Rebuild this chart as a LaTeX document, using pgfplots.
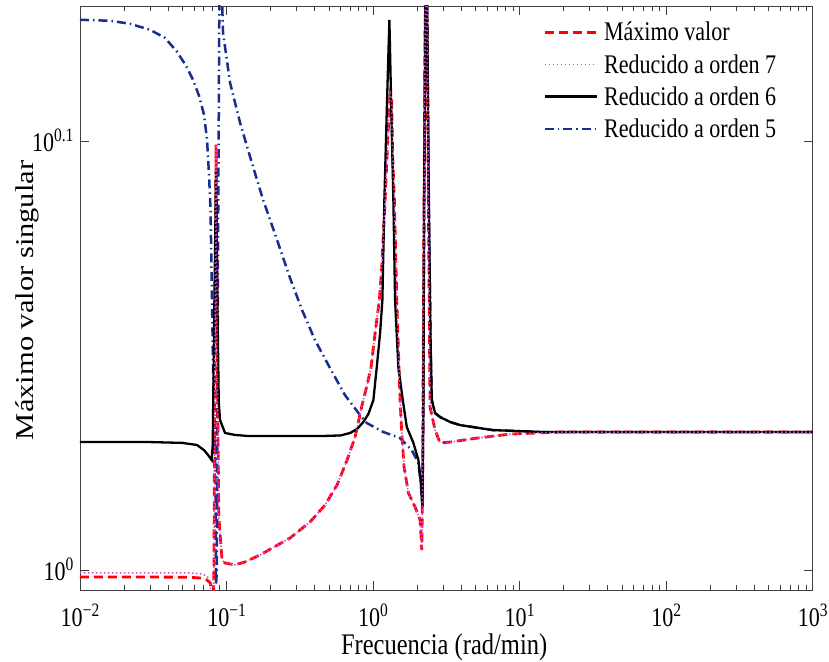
\documentclass[border=0pt]{standalone}
\usepackage{fontspec}
\setmainfont{Liberation Serif}[FakeStretch=0.82]
\newfontfamily\ylfont{Liberation Serif}
\usepackage{graphicx}
\usepackage{pgfplots}
\pgfplotsset{compat=1.18}
\definecolor{cred}{RGB}{255,0,0}
\definecolor{cmag}{RGB}{215,70,215}
\definecolor{cblue}{RGB}{25,45,140}
\newcommand\sups[1]{\raisebox{10bp}{\fontsize{19}{19}\selectfont #1}}
\begin{document}
\begin{tikzpicture}
\begin{axis}[
  xmode=log, ymode=log,
  scale only axis, width=732.7bp, height=584bp,
  xmin=0.01, xmax=1000, ymin=0.98969, ymax=1.3541,
  xtick={0.01,0.1,1,10,100,1000},
  xticklabels={10\sups{−2},10\sups{−1},10\sups{0},10\sups{1},10\sups{2},10\sups{3}},
  minor xtick={0.02,0.03,0.04,0.05,0.06,0.07,0.08,0.09,0.2,0.3,0.4,0.5,0.6,0.7,0.8,0.9,2,3,4,5,6,7,8,9,20,30,40,50,60,70,80,90,200,300,400,500,600,700,800,900},
  ytick={1,1.2589254},
  yticklabels={10\sups{0},10\sups{0.1}},
  tick align=inside,
  major tick length=9bp, minor tick length=5bp,
  every tick/.style={black!75, line width=0.8bp},
  axis line style={black!75, line width=0.9bp},
  ticklabel style={font=\fontsize{27}{30}\selectfont},
  xticklabel style={anchor=base, yshift=-36.7bp},
  yticklabel style={anchor=base east, xshift=-3bp, yshift=-9.5bp},
  xlabel={Frecuencia (rad/min)},
  xlabel style={font=\fontsize{30}{33}\selectfont, at={(axis description cs:0.497,-0.1113)}, anchor=base},
  ylabel={\scalebox{1}[0.84]{\ylfont\fontsize{30.6}{33}\selectfont Máximo valor singular}},
  ylabel style={at={(axis description cs:-0.0628,0.496)}, anchor=base, rotate=0},
  legend cell align=left,
  legend style={at={(axis description cs:0.632,0.976)}, anchor=north west, draw=none, fill=none,
    font=\fontsize{27}{30}\selectfont, row sep=8bp, inner sep=0pt, column sep=4bp},
  legend image code/.code={\draw[#1] (0bp,0bp) -- (52bp,0bp);},
]
\addlegendimage{cred, line width=2.8bp, dash pattern=on 9bp off 5bp}
\addlegendentry{Máximo valor}
\addlegendimage{cmag, line width=1.5bp, dash pattern=on 1.5bp off 2.5bp}
\addlegendentry{Reducido a orden 7}
\addlegendimage{black, line width=2.3bp}
\addlegendentry{Reducido a orden 6}
\addlegendimage{cblue, line width=2.5bp, dash pattern=on 9bp off 4bp on 1.5bp off 4bp}
\addlegendentry{Reducido a orden 5}

% Reducido a orden 5
\addplot[forget plot, cblue, line width=2.5bp, dash pattern=on 9bp off 4bp on 1.5bp off 4bp] coordinates {
(0.01,1.3441)(0.01602,1.3434)(0.02195,1.3412)(0.03005,1.3369)(0.03804,1.3311)(0.04592,1.3212)
(0.05292,1.3113)(0.05905,1.3015)(0.06491,1.2903)(0.07022,1.2773)(0.0736,1.2603)(0.07595,1.2368)
(0.07776,1.2139)(0.07962,1.1564)(0.08088,1.1155)
(0.08217,1.0988)(0.08414,1.0443)(0.08479,0.9924)(0.08588,1.0000)(0.08750,1.1880)(0.08931,1.3530)
(0.09080,1.40)(0.09465,1.3347)(0.1057,1.2994)(0.1237,1.2718)(0.1447,1.2488)(0.1774,1.2204)
(0.2212,1.1943)(0.2713,1.1701)(0.3276,1.1502)(0.4018,1.1317)(0.5086,1.1149)(0.6436,1.0988)
(0.8153,1.0871)(0.9057,1.0825)(1.1758,1.0773)(1.5285,1.0738)(1.8373,1.0669)
(2.0381,1.0595)(2.1169,1.0482)(2.1709,1.0348)(2.2053,1.0959)(2.2297,1.2204)(2.3000,1.45)
(2.4006,1.2204)(2.4696,1.13)(2.5158,1.0959)(2.6496,1.0883)(2.866,1.0860)(3.355,1.0831)
(3.925,1.0813)(6.593,1.0784)(14.47,1.0773)(1000,1.0773)
};
% Maximo valor
\addplot[forget plot, cred, line width=2.8bp, dash pattern=on 9bp off 5bp] coordinates {
(0.01,0.9966)(0.03,0.9966)(0.055,0.9965)(0.0660,0.9961)(0.0736,0.9950)(0.0775,0.9935)
(0.0795,0.985)(0.0818,0.985)(0.0832,1.10)(0.0848,1.2569)(0.0865,1.12)(0.0885,1.03)
(0.0932,1.0057)(0.0977,1.0041)(0.1143,1.0031)(0.1337,1.0047)(0.1693,1.0085)(0.2713,1.0177)
(0.3715,1.0265)(0.4704,1.0359)(0.5679,1.0471)(0.6647,1.0612)(0.7536,1.0744)(0.8412,1.0930)
(0.9100,1.1048)(0.9691,1.1155)(1.032,1.1360)(1.1042,1.1564)(1.1466,1.1770)(1.2077,1.2204)(1.2660,1.2650)
(1.3063,1.2911)(1.340,1.2876)(1.3588,1.2502)(1.3973,1.2204)(1.4510,1.1564)(1.5285,1.0959)
(1.5700,1.0767)(1.6279,1.0572)(1.7416,1.0426)(1.935,1.0348)(2.0937,1.0276)(2.1505,1.0111)
(2.1777,1.05)(2.2297,1.2204)(2.3000,1.45)(2.3852,1.2204)(2.449,1.0918)(2.6496,1.0784)
(2.866,1.0710)(3.355,1.0715)(5.128,1.0738)(8.613,1.0761)(18.9,1.0773)(1000,1.0773)
};
% Reducido a orden 6
\addplot[forget plot, black, line width=2.3bp] coordinates {
(0.01,1.0715)(0.03,1.0715)(0.05,1.0710)(0.0629,1.0698)(0.0702,1.0669)(0.0748,1.0641)
(0.0792,1.0612)(0.0805,1.0700)(0.0825,1.1500)(0.0848,1.2401)(0.0868,1.1500)(0.0885,1.0950)
(0.0903,1.0842)(0.0977,1.0767)(0.1143,1.0756)(0.1402,1.0750)(0.2500,1.0750)(0.4500,1.0750)
(0.6000,1.0753)(0.6966,1.0767)(0.7777,1.0790)(0.8584,1.0831)(0.9287,1.0877)(1.0047,1.0959)
(1.0599,1.1155)(1.1164,1.1360)(1.1575,1.1564)(1.1944,1.2204)(1.2460,1.2876)(1.2920,1.3441)
(1.3270,1.2876)(1.3755,1.2204)(1.4130,1.1564)(1.4880,1.1155)(1.5950,1.0959)(1.6984,1.0802)
(1.8841,1.0710)(2.0381,1.0612)(2.1169,1.0482)(2.1709,1.0348)(2.2053,1.0959)(2.2297,1.2204)
(2.3000,1.45)(2.4006,1.2204)(2.4696,1.13)(2.5158,1.0959)(2.6496,1.0883)(2.866,1.0860)
(3.355,1.0831)(3.925,1.0813)(6.593,1.0784)(14.47,1.0773)(1000,1.0773)
};
% Reducido a orden 7
\addplot[forget plot, cmag, line width=1.5bp, dash pattern=on 1.5bp off 2.5bp] coordinates {
(0.01,0.9989)(0.03,0.9989)(0.055,0.9989)(0.0691,0.9982)(0.0760,0.9960)
(0.0795,0.985)(0.0818,0.985)(0.0832,1.10)(0.0848,1.2569)(0.0865,1.12)(0.0885,1.03)
(0.0932,1.0057)(0.0977,1.0041)(0.1143,1.0031)(0.1337,1.0047)(0.1693,1.0085)(0.2713,1.0177)
(0.3715,1.0265)(0.4704,1.0359)(0.5679,1.0471)(0.6647,1.0612)(0.7536,1.0744)(0.8412,1.0930)
(0.9100,1.1048)(0.9691,1.1155)(1.032,1.1360)(1.1042,1.1564)(1.1466,1.1770)(1.2077,1.2204)(1.2660,1.2650)
(1.3063,1.2924)(1.340,1.2876)(1.3588,1.2502)(1.3973,1.2204)(1.4510,1.1564)(1.5285,1.0959)
(1.5700,1.0767)(1.6279,1.0572)(1.7416,1.0426)(1.935,1.0348)(2.0937,1.0276)(2.1505,1.0111)
(2.1777,1.05)(2.2297,1.2204)(2.3000,1.45)(2.3852,1.2204)(2.449,1.0918)(2.6496,1.0784)
(2.866,1.0710)(3.355,1.0715)(5.128,1.0738)(8.613,1.0761)(18.9,1.0773)(1000,1.0773)
};
\end{axis}
\pgfresetboundingbox
\path[use as bounding box] (-80bp,-72bp) rectangle (749bp,590bp);
\end{tikzpicture}
\end{document}
